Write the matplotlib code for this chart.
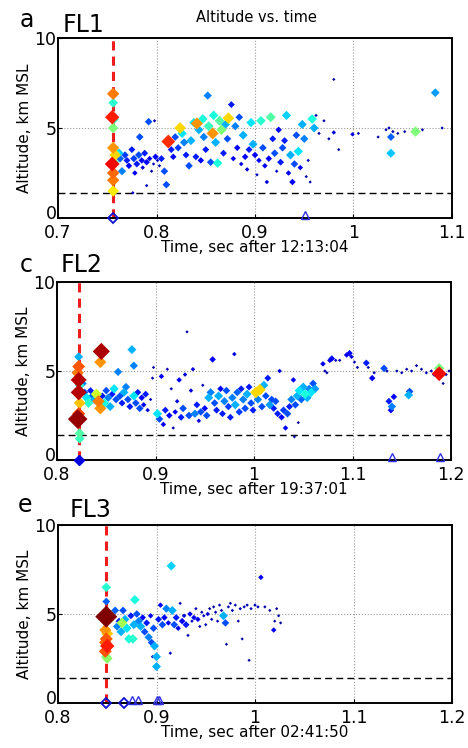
import numpy as np
import matplotlib
matplotlib.use("Agg")
import matplotlib.pyplot as plt
from matplotlib.transforms import ScaledTranslation

# ---- panel a / FL1 : (time, altitude, normalised power) ----
fl1_t = [0.756, 0.756, 0.755, 0.757, 0.756, 0.756, 0.758, 0.755, 0.757, 0.756, 0.756, 0.756, 0.759,
         0.762, 0.763, 0.765, 0.768, 0.770, 0.772, 0.775, 0.777, 0.778, 0.780, 0.782, 0.783, 0.785,
         0.786, 0.788, 0.790, 0.792, 0.793, 0.795, 0.797, 0.799, 0.801, 0.803, 0.798, 0.776, 0.790,
         0.810, 0.805, 0.808, 0.812, 0.812, 0.815, 0.817, 0.819, 0.822, 0.824, 0.826, 0.828, 0.830,
         0.833, 0.835, 0.838, 0.840, 0.841, 0.843, 0.845, 0.847, 0.848, 0.850, 0.852, 0.853, 0.855,
         0.857, 0.858, 0.860, 0.862, 0.864, 0.866, 0.868, 0.870, 0.872, 0.873, 0.876, 0.878, 0.880,
         0.882, 0.884, 0.886, 0.888, 0.890, 0.892, 0.894, 0.896, 0.898, 0.900, 0.902, 0.904, 0.906,
         0.908, 0.910, 0.912, 0.914, 0.916, 0.918, 0.920, 0.922, 0.924, 0.926, 0.928, 0.930, 0.932,
         0.934, 0.936, 0.938, 0.940, 0.942, 0.944, 0.946, 0.948, 0.950, 0.952, 0.954, 0.956, 0.958,
         0.960, 0.962, 0.965, 0.970, 0.975, 0.980, 0.980, 0.985, 0.999, 1.005, 1.025, 1.033, 1.036,
         1.038, 1.038, 1.040, 1.045, 1.052, 1.063, 1.070, 1.083, 1.090]
fl1_alt = [6.9, 6.4, 5.6, 5.5, 5.0, 3.9, 3.5, 3.0, 3.1, 2.5, 2.1, 1.5, 3.6,
           3.6, 3.3, 2.6, 3.5, 3.2, 2.9, 3.8, 3.3, 2.5, 3.0, 3.5, 4.5, 3.2,
           2.8, 3.6, 3.1, 5.35, 3.3, 2.6, 3.0, 3.4, 3.2, 2.9, 5.4, 1.4, 1.8,
           1.85, 3.3, 2.6, 4.25, 4.2, 3.8, 3.4, 4.5, 3.9, 5.0, 4.7, 4.2, 3.5,
           2.9, 4.3, 5.3, 3.4, 5.25, 4.9, 3.2, 5.5, 4.5, 3.8, 6.8, 5.1, 3.1,
           4.7, 5.7, 4.2, 3.05, 5.4, 4.9, 3.6, 5.2, 4.4, 5.55, 6.3, 3.3, 5.1,
           3.9, 5.6, 3.0, 4.6, 3.4, 2.7, 3.8, 5.3, 4.1, 3.5, 2.4, 3.2, 5.4,
           3.9, 2.9, 2.0, 3.3, 5.6, 4.4, 3.6, 2.6, 4.9, 3.1, 3.9, 4.3, 5.7,
           2.5, 3.5, 2.0, 3.0, 4.6, 3.7, 2.8, 5.2, 4.4, 2.3, 3.2, 2.0, 5.5,
           5.0, 5.7, 4.7, 5.4, 4.4, 4.75, 7.7, 3.8, 4.65, 4.7, 4.5, 4.9, 5.0,
           4.5, 3.6, 4.8, 4.7, 4.8, 4.8, 4.9, 6.96, 5.0]
fl1_pow = [0.78, 0.40, 0.88, 0.42, 0.50, 0.75, 0.68, 0.90, 0.45, 0.80, 0.78, 0.66, 0.38,
           0.32, 0.22, 0.25, 0.18, 0.15, 0.12, 0.15, 0.18, 0.10, 0.15, 0.20, 0.20, 0.12,
           0.08, 0.15, 0.12, 0.20, 0.10, 0.05, 0.05, 0.12, 0.06, 0.05, 0.05, 0.06, 0.05,
           0.20, 0.15, 0.20, 0.86, 0.30, 0.15, 0.12, 0.20, 0.18, 0.68, 0.35, 0.25, 0.15,
           0.20, 0.30, 0.35, 0.15, 0.75, 0.30, 0.12, 0.38, 0.25, 0.15, 0.25, 0.42, 0.20,
           0.75, 0.38, 0.30, 0.38, 0.45, 0.50, 0.15, 0.30, 0.20, 0.68, 0.15, 0.10, 0.25,
           0.12, 0.20, 0.08, 0.30, 0.12, 0.08, 0.15, 0.35, 0.30, 0.12, 0.05, 0.10, 0.40,
           0.20, 0.10, 0.08, 0.12, 0.45, 0.15, 0.20, 0.06, 0.12, 0.15, 0.20, 0.15, 0.33,
           0.10, 0.30, 0.12, 0.20, 0.20, 0.35, 0.10, 0.30, 0.25, 0.04, 0.05, 0.03, 0.38,
           0.30, 0.05, 0.05, 0.04, 0.04, 0.08, 0.03, 0.03, 0.08, 0.03, 0.03, 0.04, 0.05,
           0.22, 0.32, 0.05, 0.03, 0.03, 0.50, 0.03, 0.28, 0.03]

# ---- panel c / FL2 ----
fl2_t = [0.822, 0.822, 0.821, 0.822, 0.823, 0.822, 0.823, 0.822, 0.821, 0.823, 0.823,
         0.826, 0.828, 0.830, 0.832, 0.834, 0.836, 0.838, 0.840, 0.842, 0.844, 0.845, 0.844,
         0.846, 0.848, 0.850, 0.852, 0.854, 0.856, 0.858, 0.860, 0.862, 0.864, 0.866, 0.868,
         0.870, 0.872, 0.874, 0.876, 0.878, 0.878, 0.880, 0.882, 0.884, 0.886, 0.888, 0.890,
         0.892, 0.895, 0.897, 0.898,
         0.902, 0.904, 0.906, 0.908, 0.910, 0.912, 0.914, 0.916, 0.918, 0.920, 0.922, 0.924,
         0.926, 0.928, 0.930, 0.932, 0.934, 0.936, 0.938, 0.940, 0.942, 0.944, 0.946, 0.948,
         0.950, 0.952, 0.954, 0.956, 0.958, 0.960, 0.962, 0.964, 0.966, 0.968, 0.970, 0.972,
         0.974, 0.976, 0.978, 0.980, 0.981, 0.983, 0.985, 0.987, 0.989, 0.991, 0.993, 0.995,
         0.997, 0.999, 1.002, 1.006, 1.004, 1.008, 1.010, 1.012, 1.014, 1.016, 1.018, 1.020,
         1.022, 1.024, 1.026, 1.028, 1.030, 1.032, 1.034, 1.036, 1.038, 1.040, 1.042, 1.044,
         1.046, 1.048, 1.050, 1.052, 1.054, 1.056, 1.058, 1.060, 1.062, 1.045, 1.041,
         1.070, 1.072, 1.074, 1.077, 1.079, 1.083, 1.087, 1.094, 1.097, 1.099, 1.102, 1.105,
         1.114, 1.116, 1.120, 1.122, 1.132, 1.135, 1.137, 1.139, 1.142, 1.140, 1.145, 1.150,
         1.155, 1.157, 1.158, 1.160, 1.165, 1.170, 1.175, 1.180, 1.183, 1.188, 1.188, 1.192,
         1.195, 1.198]
fl2_alt = [5.8, 5.25, 4.9, 4.5, 4.2, 3.8, 3.2, 2.6, 2.3, 1.5, 1.2,
           4.3, 3.8, 3.5, 3.2, 3.9, 3.6, 3.4, 3.7, 3.3, 2.9, 6.1, 5.5,
           3.6, 3.2, 3.9, 3.5, 3.0, 3.7, 4.0, 3.4, 4.95, 3.6, 3.2, 3.8,
           4.1, 3.4, 3.0, 6.2, 5.3, 3.6, 3.2, 3.8, 2.9, 3.5, 3.1, 3.7,
           2.8, 3.4, 4.6, 5.2,
           2.6, 2.3, 4.7, 2.0, 2.8, 5.1, 2.5, 4.0, 1.8, 2.7, 3.3, 4.5,
           2.4, 2.9, 4.8, 7.2, 2.5, 3.9, 5.1, 2.6, 3.1, 2.2, 2.7, 4.2,
           2.9, 2.5, 3.5, 3.8, 5.65, 3.2, 2.8, 3.6, 4.0, 2.6, 3.3, 3.9,
           3.0, 2.4, 3.5, 5.95, 3.1, 3.8, 2.7, 4.0, 3.4, 2.9, 3.7, 4.1,
           3.2, 2.8, 3.8, 3.95, 3.4, 3.0, 4.2, 3.6, 4.6, 3.1, 3.4, 2.9,
           3.3, 2.6, 5.0, 2.4, 2.8, 1.8, 2.6, 3.0, 3.4, 4.5, 3.1, 3.6,
           3.9, 3.4, 4.1, 3.7, 3.5, 4.0, 3.8, 4.3, 4.0, 2.1, 1.3,
           5.4, 5.0, 4.9, 5.6, 5.7, 5.6, 5.6, 5.9, 6.0, 5.8, 5.5, 5.2,
           5.45, 5.2, 4.6, 4.9, 5.15, 5.0, 3.3, 2.8, 3.55, 3.0, 5.0, 4.9,
           5.1, 3.65, 3.85, 5.0, 5.3, 5.1, 4.9, 5.0, 4.8, 4.85, 5.15, 4.3,
           4.8, 5.0]
fl2_pow = [0.30, 0.82, 0.78, 0.95, 0.40, 0.95, 0.70, 0.83, 0.98, 0.45, 0.42,
           0.25, 0.20, 0.35, 0.40, 0.15, 0.22, 0.30, 0.60, 0.78, 0.75, 0.96, 0.75,
           0.15, 0.38, 0.20, 0.25, 0.30, 0.15, 0.35, 0.20, 0.25, 0.20, 0.15, 0.30,
           0.25, 0.20, 0.15, 0.30, 0.25, 0.35, 0.20, 0.15, 0.20, 0.12, 0.10, 0.15,
           0.08, 0.05, 0.05, 0.03,
           0.35, 0.20, 0.10, 0.10, 0.15, 0.05, 0.12, 0.05, 0.05, 0.10, 0.08, 0.10,
           0.15, 0.20, 0.08, 0.03, 0.20, 0.08, 0.08, 0.25, 0.15, 0.08, 0.20, 0.05,
           0.12, 0.20, 0.30, 0.25, 0.12, 0.20, 0.15, 0.30, 0.12, 0.15, 0.25, 0.20,
           0.18, 0.15, 0.25, 0.08, 0.30, 0.22, 0.18, 0.15, 0.25, 0.20, 0.30, 0.15,
           0.20, 0.15, 0.68, 0.68, 0.25, 0.20, 0.30, 0.20, 0.15, 0.28, 0.20, 0.15,
           0.20, 0.15, 0.08, 0.12, 0.18, 0.10, 0.20, 0.15, 0.25, 0.10, 0.20, 0.30,
           0.35, 0.22, 0.30, 0.38, 0.30, 0.25, 0.35, 0.20, 0.28, 0.03, 0.03,
           0.10, 0.05, 0.05, 0.10, 0.12, 0.05, 0.05, 0.10, 0.12, 0.08, 0.05, 0.05,
           0.15, 0.05, 0.12, 0.05, 0.20, 0.05, 0.15, 0.12, 0.12, 0.25, 0.04, 0.04,
           0.04, 0.30, 0.20, 0.04, 0.04, 0.04, 0.05, 0.05, 0.08, 0.90, 0.50, 0.03,
           0.05, 0.04]

# ---- panel e / FL3 ----
fl3_t = [0.849, 0.849, 0.849, 0.848, 0.850, 0.849, 0.848, 0.850, 0.849, 0.848, 0.849, 0.850,
         0.858, 0.860, 0.862, 0.864, 0.865, 0.866, 0.868, 0.870, 0.872, 0.874, 0.876, 0.877,
         0.878, 0.880, 0.882, 0.884, 0.886, 0.888, 0.890, 0.892, 0.894, 0.895, 0.896, 0.897,
         0.898, 0.900, 0.900, 0.902, 0.904, 0.906, 0.908, 0.910, 0.912, 0.914, 0.915, 0.916,
         0.918, 0.920, 0.922, 0.924, 0.926, 0.928, 0.930, 0.932, 0.934, 0.936, 0.938, 0.940,
         0.942, 0.944, 0.946, 0.948, 0.950, 0.952, 0.954, 0.956, 0.958, 0.960, 0.962, 0.964,
         0.966, 0.968, 0.970, 0.971, 0.973, 0.975, 0.977, 0.980, 0.983, 0.985, 0.987, 0.989,
         0.992, 0.994, 0.996, 1.000, 1.003, 1.006, 1.010, 1.015, 1.019, 1.020, 1.022, 1.024,
         1.026]
fl3_alt = [6.5, 5.7, 4.85, 4.1, 3.9, 3.6, 3.4, 3.2, 3.0, 2.9, 2.6, 2.5,
           5.2, 4.3, 4.6, 4.0, 4.5, 5.2, 4.7, 4.2, 3.6, 4.9, 3.6, 4.4,
           5.8, 5.0, 4.6, 4.3, 4.8, 4.0, 4.5, 3.7, 4.9, 3.4, 2.6, 4.2,
           3.2, 2.6, 2.05, 4.7, 5.5, 4.4, 4.8, 5.3, 4.5, 2.8, 7.7, 5.2,
           4.4, 4.8, 4.2, 5.6, 4.6, 4.9, 4.4, 3.8, 5.0, 4.6, 4.8, 5.3,
           4.7, 4.3, 5.1, 4.9, 4.4, 5.0, 5.3, 4.7, 5.4, 5.1, 4.6, 5.5,
           5.2, 4.9, 4.5, 3.3, 5.4, 5.6, 5.2, 5.5, 4.6, 5.3, 3.6, 5.4,
           5.5, 2.4, 5.3, 5.5, 5.4, 7.06, 5.4, 5.2, 4.1, 4.6, 5.3, 4.9,
           4.5]
fl3_pow = [0.40, 0.22, 1.00, 0.75, 0.70, 0.82, 0.80, 0.88, 0.40, 0.82, 0.50, 0.52,
           0.22, 0.25, 0.15, 0.30, 0.55, 0.20, 0.30, 0.35, 0.38, 0.15, 0.40, 0.30,
           0.38, 0.20, 0.25, 0.30, 0.12, 0.20, 0.15, 0.25, 0.10, 0.20, 0.05, 0.20,
           0.30, 0.30, 0.30, 0.15, 0.10, 0.20, 0.12, 0.25, 0.10, 0.06, 0.33, 0.30,
           0.20, 0.15, 0.10, 0.05, 0.12, 0.08, 0.15, 0.05, 0.10, 0.05, 0.10, 0.05,
           0.10, 0.04, 0.05, 0.06, 0.04, 0.08, 0.04, 0.05, 0.04, 0.05, 0.04, 0.04,
           0.05, 0.30, 0.20, 0.03, 0.04, 0.04, 0.05, 0.04, 0.03, 0.05, 0.03, 0.04,
           0.05, 0.03, 0.04, 0.06, 0.05, 0.10, 0.04, 0.03, 0.10, 0.03, 0.03, 0.03,
           0.03]

# ground markers (altitude 0)
fl1_open_diamonds = [0.756]
fl1_triangles = [0.951]
fl2_filled_diamonds = [0.822]
fl2_triangles = [1.140, 1.189]
fl3_open_diamonds = [0.849, 0.867]
fl3_triangles = [0.875, 0.881, 0.900, 0.903]

panels = [
    dict(letter="a", name="FL1", t=fl1_t, alt=fl1_alt, p=fl1_pow, t0="12:13:04",
         xlim=(0.7, 1.1), xticks=[0.7, 0.8, 0.9, 1.0, 1.1], onset=0.756,
         open_d=fl1_open_diamonds, fill_d=[], tri=fl1_triangles),
    dict(letter="c", name="FL2", t=fl2_t, alt=fl2_alt, p=fl2_pow, t0="19:37:01",
         xlim=(0.8, 1.2), xticks=[0.8, 0.9, 1.0, 1.1, 1.2], onset=0.822,
         open_d=[], fill_d=fl2_filled_diamonds, tri=fl2_triangles),
    dict(letter="e", name="FL3", t=fl3_t, alt=fl3_alt, p=fl3_pow, t0="02:41:50",
         xlim=(0.8, 1.2), xticks=[0.8, 0.9, 1.0, 1.1, 1.2], onset=0.849,
         open_d=fl3_open_diamonds, fill_d=[], tri=fl3_triangles),
]

W, H = 468, 748
fig = plt.figure(figsize=(W / 100, H / 100), dpi=100)

# axes boxes in pixels: left, top, right, bottom
boxes = [(58, 38, 452, 218), (57, 282, 451, 460), (58, 525, 452, 703)]
letter_pos = [(20, 27), (20, 272), (18, 512)]
name_pos = [(63, 32), (61, 272), (70, 517)]

cmap = plt.get_cmap("jet")


def marker_area(p):
    # diamond width in px grows with power, converted to points^2 for 'D'
    w = np.interp(p, [0.0, 0.06, 0.12, 0.3, 0.5, 0.8, 0.95, 1.0],
                  [3.0, 3.5, 6.5, 9.0, 10.5, 12.5, 16.0, 22.0])
    return (w / 1.414 * 0.72) ** 2


for i, pn in enumerate(panels):
    l, t, r, b = boxes[i]
    ax = fig.add_axes([l / W, 1 - b / H, (r - l) / W, (b - t) / H])

    t_arr = np.array(pn["t"])
    a_arr = np.array(pn["alt"])
    p_arr = np.array(pn["p"])
    order = np.argsort(p_arr, kind="stable")

    ax.axvline(pn["onset"], color="#ee1c1c", ls=(0, (3, 2)), lw=2.2, zorder=1)
    ax.axhline(1.4, color="black", ls=(0, (5, 3)), lw=1.0, zorder=1)

    ax.scatter(t_arr[order], a_arr[order], c=cmap(p_arr[order]),
               s=marker_area(p_arr[order]), marker="D", linewidths=0, zorder=3)

    if pn["open_d"]:
        ax.plot(pn["open_d"], [0] * len(pn["open_d"]), "D", ms=5, mfc="none",
                mec="#1010d0", mew=1.3, zorder=4, clip_on=False)
    if pn["fill_d"]:
        ax.plot(pn["fill_d"], [0] * len(pn["fill_d"]), "D", ms=5.5, mfc="#0000e0",
                mec="#0000e0", zorder=4, clip_on=False)
    ax.plot(pn["tri"], [0.15] * len(pn["tri"]), "^", ms=6, mfc="none",
            mec="#3030e0", mew=1.0, zorder=4, clip_on=False)

    ax.set_xlim(*pn["xlim"])
    ax.set_ylim(0, 10)
    ax.set_xticks(pn["xticks"])
    ax.set_xticklabels(["%g" % v for v in pn["xticks"]])
    ax.set_yticks([0, 5, 10])
    ax.set_yticklabels(["0", "5", "10"])
    ax.grid(True, ls=":", color="#999999", lw=0.8)
    ax.set_axisbelow(True)
    ax.tick_params(direction="in", length=3, labelsize=12.5, width=0.8)
    ax.tick_params(axis="x", pad=4)
    ax.tick_params(axis="y", pad=1)
    for sp in ax.spines.values():
        sp.set_linewidth(1.4)

    # lift the "0" a touch so it sits just above the first x label
    zero_lbl = ax.get_yticklabels()[0]
    zero_lbl.set_transform(zero_lbl.get_transform() + ScaledTranslation(0, 4 / 72, fig.dpi_scale_trans))

    ax.set_xlabel("Time, sec after " + pn["t0"], fontsize=11, labelpad=-1)
    ax.set_ylabel("Altitude, km MSL", fontsize=11, labelpad=2)

    lx, ly = letter_pos[i]
    fig.text(lx / W, 1 - ly / H, pn["letter"], fontsize=17, ha="left", va="baseline")
    nx, ny = name_pos[i]
    fig.text(nx / W, 1 - ny / H, pn["name"], fontsize=17, ha="left", va="baseline")

fig.text(256 / W, 1 - 22 / H, "Altitude vs. time", fontsize=10.5, ha="center", va="baseline")

fig.savefig("out.png", dpi=100)
